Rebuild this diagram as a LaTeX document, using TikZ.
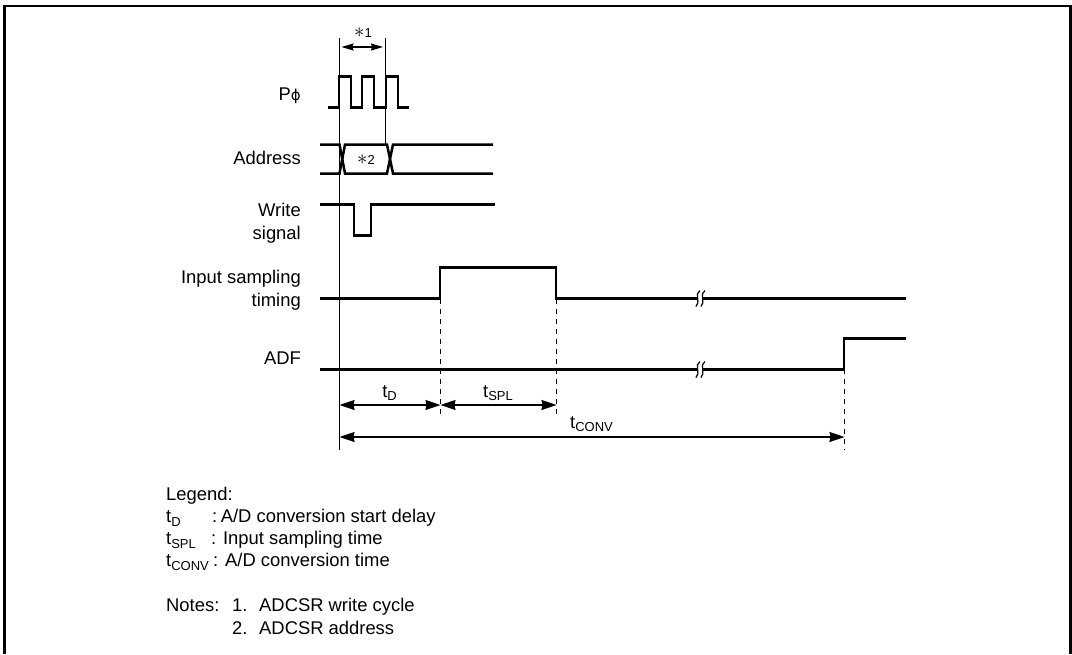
\documentclass[tikz,border=0pt]{standalone}
\usepackage{fontspec}
\setmainfont{Liberation Sans}
\newfontfamily\symfont{DejaVu Sans}
\usetikzlibrary{arrows.meta}

\newcommand{\tsub}[1]{t\raisebox{-3.5pt}{\fontsize{13}{13}\selectfont #1}}
\newcommand{\starmark}{{\fontsize{20}{20}\selectfont$\ast$}}

\tikzset{
    txt/.style={font=\fontsize{18.4}{23}\selectfont, inner sep=0pt},
    sig/.style={line width=2.5pt, line join=miter},
    thin line/.style={line width=1.2pt},
    guide/.style={line width=1.2pt, dash pattern=on 5pt off 5pt},
    dim/.style={line width=1.2pt, {Stealth[length=15pt,width=10pt,inset=1pt]}-{Stealth[length=15pt,width=10pt,inset=1pt]}},
    star/.style={font=\fontsize{13}{13}\selectfont, inner sep=0pt}
}

\begin{document}
\begin{tikzpicture}[x=1pt, y=-1pt]
    \useasboundingbox (0,0) rectangle (1072,654);

    % Frame
    \draw[sig] (4.5,654) -- (4.5,6) -- (1070.5,6) -- (1070.5,654);

    % Signal names
    \node[txt, anchor=base east] (clk) at (301,100.5) {P{\symfont\fontsize{15}{15}\selectfont ϕ}};
    \node[txt, anchor=base east] (addr) at (301,164) {Address};
    \node[txt, anchor=base east, align=right] (wr) at (301,239) {Write\\signal};
    \node[txt, anchor=base east, align=right] (smp) at (301,306) {Input sampling\\timing};
    \node[txt, anchor=base east] (adf) at (301,364) {ADF};

    % P phi
    \draw[sig] (328,107.5) -- (339,107.5) -- (339,76.5) -- (351,76.5) -- (351,107.5) -- (362,107.5)
               -- (362,76.5) -- (374,76.5) -- (374,107.5) -- (386,107.5) -- (386,76.5)
               -- (398,76.5) -- (398,107.5) -- (409,107.5);

    % Address
    \draw[sig] (320,144.5) -- (339.5,144.5) -- (345,173.5) -- (387,173.5) -- (393,144.5) -- (493,144.5);
    \draw[sig] (320,173.5) -- (339.5,173.5) -- (345,144.5) -- (387,144.5) -- (393,173.5) -- (493,173.5);

    % Write signal
    \draw[sig] (320,204.5) -- (354,204.5) -- (354,235.5) -- (371,235.5) -- (371,204.5) -- (495,204.5);

    % Input sampling timing
    \draw[sig] (320,298.5) -- (440,298.5) -- (440,267.5) -- (556,267.5) -- (556,298.5) -- (906,298.5);

    % ADF
    \draw[sig] (320,369.5) -- (844,369.5) -- (844,338.5) -- (906,338.5);

    % Breaks
    \foreach \y in {298.5,369.5} {
        \fill[white] (698,\y-3) rectangle (703,\y+3);
        \foreach \x in {695,700} {
            \draw[line width=1.2pt] (\x+5,\y-8) .. controls (\x-1,\y-5) and (\x+6,\y+4) .. (\x+1,\y+8);
        }
    }

    % Reference lines
    \coordinate (vA) at (339.5,38);
    \coordinate (vAend) at (339.5,450);
    \coordinate (vB) at (385.5,38);
    \coordinate (vBend) at (385.5,144);
    \draw[thin line] (vA) -- (vAend);
    \draw[thin line] (vB) -- (vBend);
    \draw[guide] (440.5,298.5) -- (440.5,417);
    \draw[guide] (556.5,298.5) -- (556.5,417);
    \draw[guide] (844.5,369) -- (844.5,450);

    % Dimensions
    \coordinate (cycL) at (341.5,47);
    \coordinate (cycR) at (383,47);
    \coordinate (tdL) at (339.5,405);
    \coordinate (tdR) at (440.5,405);
    \coordinate (splR) at (556.5,405);
    \coordinate (convL) at (339.5,437);
    \coordinate (convR) at (844.5,437);
    \draw[line width=1.2pt, {Stealth[length=12pt,width=7pt,inset=1pt]}-{Stealth[length=12pt,width=7pt,inset=1pt]}] (cycL) -- (cycR);
    \draw[dim] (tdL) -- (tdR);
    \draw[dim] (tdR) -- (splR);
    \draw[dim] (convL) -- (convR);

    % Labels
    \node[star] (noteA) at (363,33) {\starmark1};
    \node[star] (noteB) at (366,160) {\starmark2};
    \node[txt, anchor=base] (tD) at (389.5,397) {\tsub{D}};
    \node[txt, anchor=base] (tSPL) at (498,397) {\tsub{SPL}};
    \node[txt, anchor=base] (tCONV) at (591.5,428) {\tsub{CONV}};

    % Legend
    \node[txt, anchor=base west] (lgd) at (166,500) {Legend:};
    \node[txt, anchor=base west] (lgdA) at (166,522.7) {\tsub{D}};
    \node[txt, anchor=base west] (lgdAt) at (212,522.7) {:\hspace{3.5pt}A/D conversion start delay};
    \node[txt, anchor=base west] (lgdB) at (166,544.7) {\tsub{SPL}};
    \node[txt, anchor=base west] (lgdBt) at (211,544.7) {: Input sampling time};
    \node[txt, anchor=base west] (lgdC) at (166,566.7) {\tsub{CONV}};
    \node[txt, anchor=base west] (lgdCt) at (213,566.7) {: A/D conversion time};

    % Notes
    \node[txt, anchor=base west] (nts) at (166,611.7) {Notes:};
    \node[txt, anchor=base west] (ntA) at (232,611.7) {1.};
    \node[txt, anchor=base west] (ntAt) at (259,611.7) {ADCSR write cycle};
    \node[txt, anchor=base west] (ntB) at (232,634) {2.};
    \node[txt, anchor=base west] (ntBt) at (259,634) {ADCSR address};
\end{tikzpicture}
\end{document}
